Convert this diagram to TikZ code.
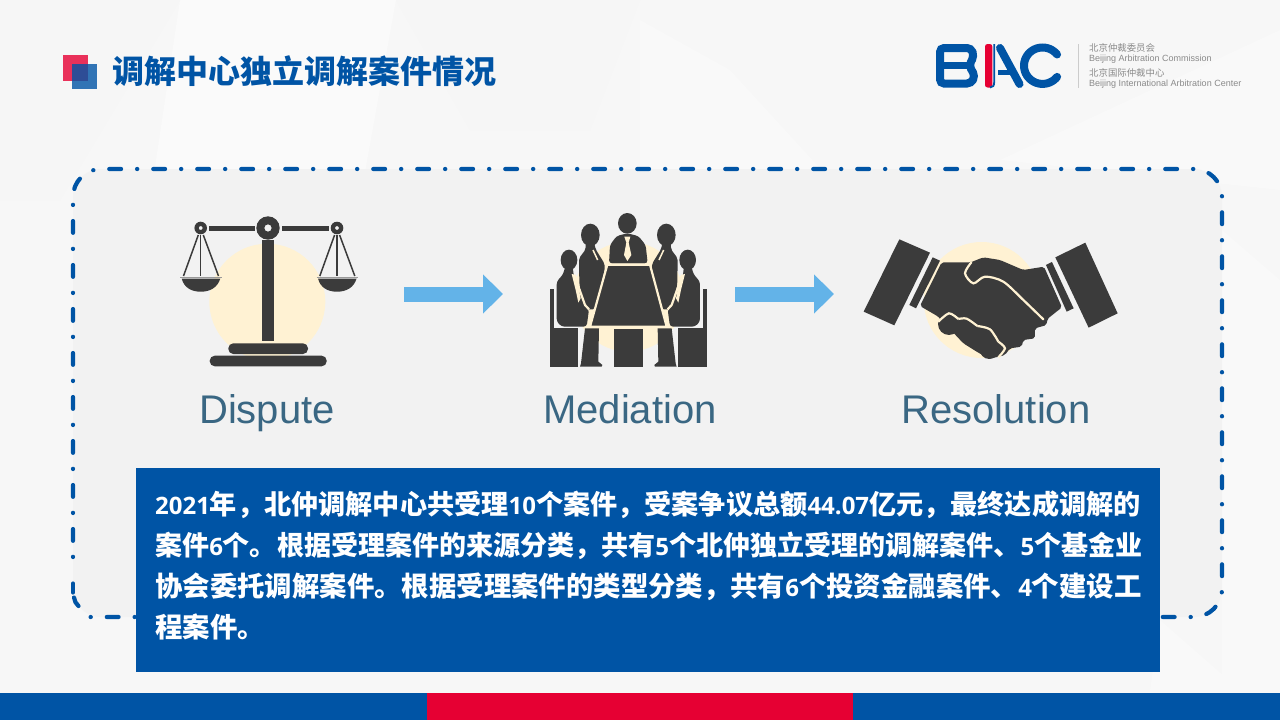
\documentclass[tikz,border=0pt]{standalone}
\usepackage{fontspec}
\setmainfont{Liberation Sans}
\newfontfamily\cjkfont{Noto Sans CJK SC}
\newfontfamily\digitfont{Open Sans}
\usetikzlibrary{arrows.meta}
\usetikzlibrary{positioning}
\definecolor{bacblue}{HTML}{0054A5}
\definecolor{bacred}{HTML}{E60033}
\definecolor{icondark}{HTML}{3B3B3B}
\definecolor{cream}{HTML}{FFF2D3}
\definecolor{labelblue}{HTML}{3A6783}
\definecolor{flowblue}{HTML}{63B3E8}
\definecolor{logogray}{HTML}{8A8A8A}
\newcommand{\dgt}[1]{{\digitfont\fontsize{24}{41}\selectfont #1}}
\tikzset{
  flowlabel/.style={text=labelblue,anchor=base,font=\fontsize{40}{48}\selectfont},
  flowarrow/.style={line width=15pt,flowblue,-{Triangle[length=20pt,width=38pt]}},
  logotext/.style={text=logogray,anchor=west,inner sep=0pt},
  iconline/.style={draw=icondark,line width=1.5pt},
  creamline/.style={draw=cream,line width=2.2pt},
  borderline/.style={bacblue,line width=4.2pt,line cap=round},
  bgpoly/.style={draw=none}
}
\begin{document}
\begin{tikzpicture}[x=1pt,y=-1pt]
\useasboundingbox (0,0) rectangle (1280,720);
\fill[white!97!black] (0,0) rectangle (1280,720);
\fill[bgpoly,white!98!black] (180,0) -- (396,0) -- (360,200) -- (150,200) -- cycle;
\fill[bgpoly,white!96.3!black] (396,0) -- (640,0) -- (590,130) -- (470,130) -- cycle;
\fill[bgpoly,white!97.8!black] (640,20) -- (730,70) -- (840,190) -- (640,190) -- cycle;
\fill[bgpoly,white!96.3!black] (0,0) -- (180,0) -- (60,200) -- (0,200) -- cycle;
\fill[bgpoly,white!97.8!black] (1000,160) -- (1280,30) -- (1280,190) -- cycle;
\fill[bgpoly,white!97.6!black] (1160,620) -- (1240,690) -- (1150,690) -- cycle;
\fill[bgpoly,white!97.6!black] (1222,230) -- (1280,280) -- (1280,690) -- (1222,690) -- cycle;
\fill[white!95!black,rounded corners=28pt] (73,169) rectangle (1222,617);
\draw[borderline,rounded corners=28pt,dash pattern=on 11.8pt off 16pt on 0.2pt off 16pt,dash phase=27.8pt] (73,557) -- (73,169) -- (1222,169) -- (1222,617) -- (90,617);
\draw[borderline] (73,583.5) -- (73,592.5);
\draw[borderline] (74,597.5) .. controls (74.5,601) and (76,604) .. (78.5,606);
\fill[bacred,opacity=0.8] (63,55) rectangle (88,81);
\fill[bacblue,opacity=0.8] (72,64) rectangle (97,89);
\node[anchor=west,inner sep=0pt,text=bacblue] (title) at (112,71) {\cjkfont\bfseries\fontsize{32}{38}\selectfont 调解中心独立调解案件情况};
\draw[bacblue,line width=8pt,rounded corners=4pt] (940,48) -- (971,48) -- (974,56) -- (969,65.5) -- (975,76) -- (971,83.5) -- (940,83.5) -- cycle;
\draw[bacblue,line width=7pt] (940,65.5) -- (969,65.5);
\fill[bacred,rounded corners=2.5pt] (985,44) rectangle (992.3,87.5);
\draw[bacblue,line width=1.8pt] (994.2,44) -- (994.2,82) .. controls (994.2,86) and (993,87) .. (990,87.5);
\draw[bacblue,line width=8pt,line cap=round] (1000,48) -- (1019.5,84);
\draw[bacblue,line width=5pt] (998,72.5) -- (1013,72.5);
\draw[bacblue,line width=8pt,line cap=round] plot[domain=-38:-322,samples=40,smooth] ({1042.5+18.5*cos(\x)},{65.7+18.2*sin(\x)});
\draw[white!80!black,line width=0.8pt] (1078,44) -- (1078,88);
\node[logotext] (cnamea) at (1089,48) {\cjkfont\fontsize{9.4}{11}\selectfont 北京仲裁委员会};
\node[logotext] (enamea) at (1089,59) {\fontsize{9}{10}\selectfont Beijing Arbitration Commission};
\node[logotext] (cnameb) at (1089,73) {\cjkfont\fontsize{9.4}{11}\selectfont 北京国际仲裁中心};
\node[logotext] (enameb) at (1089,84) {\fontsize{9}{10}\selectfont Beijing International Arbitration Center};
\fill[cream] (267.3,301.7) circle (58);
\fill[icondark] (208.7,225.5) rectangle (255,230.7);
\fill[icondark] (281.7,225.5) rectangle (329.3,230.7);
\fill[icondark,even odd rule] (268,228) circle (11.7) (268,228) circle (3.7);
\fill[icondark] (262.3,240) rectangle (274.3,341.3);
\fill[icondark,rounded corners=5pt] (228.3,343.3) rectangle (308,354);
\fill[icondark,rounded corners=5pt] (209.7,355.7) rectangle (326.7,366.3);
\foreach \dx in {0,136.3}{
  \fill[icondark,even odd rule] (200.7+\dx,228) circle (6.3) (200.7+\dx,228) circle (2);
  \draw[iconline] (198.3+\dx,235) -- (183.5+\dx,276);
  \draw[iconline] (200.7+\dx,235) -- (200.7+\dx,276);
  \draw[iconline] (203.3+\dx,235) -- (218.5+\dx,276);
  \draw[white!60!black,line width=1pt] (180.3+\dx,277.7) -- (221.7+\dx,277.7);
  \fill[icondark] (181.7+\dx,278.5) .. controls (184+\dx,288) and (192+\dx,291.7) .. (200.7+\dx,291.7) .. controls (209.5+\dx,291.7) and (217.5+\dx,288) .. (220.3+\dx,278.5) -- cycle;
}
\node[flowlabel] (dispute) at (267,423.3) {Dispute};
\coordinate (arrowastart) at (404,294);
\coordinate (arrowaend) at (503,294);
\draw[flowarrow] (arrowastart) -- (arrowaend);
\coordinate (arrowbstart) at (735,294);
\coordinate (arrowbend) at (834,294);
\draw[flowarrow] (arrowbstart) -- (arrowbend);
\fill[cream] (628.3,296.7) circle (55);
\begin{scope}[shift={(628.33,200)},x=0.3333pt,y=-0.3333pt]
\foreach \s in {1,-1}{
  \begin{scope}[xscale=\s]
  \fill[icondark] (-114,105) ellipse (28 and 34);
  \fill[icondark,rounded corners=2pt] (-128,130) -- (-102,130) -- (-98,148) -- (-72,190) -- (-70,205) -- (-100,328) -- (-135,328) -- (-147,250) -- (-148,175) -- (-128,148) -- cycle;
  \draw[cream,line width=1.5pt] (-106,150) -- (-92,180);
  \fill[icondark] (-178,180) ellipse (25 and 31);
  \fill[icondark,rounded corners=3pt] (-190,200) -- (-166,200) -- (-165,222) -- (-135,310) -- (-118,328) -- (-125,380) -- (-200,380) -- (-215,365) -- (-215,245) -- (-195,222) -- cycle;
  \fill[cream] (-170,222) -- (-157,225) -- (-143,295) -- (-150,308) -- (-158,270) -- cycle;
  \draw[creamline] (-162,225) -- (-130,315) -- (-118,328);
  \fill[icondark] (-235,385) rectangle (-150,500);
  \fill[icondark] (-235,267) rectangle (-223,383);
  \fill[icondark] (-130,385) -- (-88,385) -- (-90,485) -- (-78,495) -- (-80,500) -- (-145,500) -- (-142,490) -- cycle;
  \end{scope}
}
\fill[icondark] (-42,388) rectangle (45,500);
\fill[icondark] (-3,70) ellipse (28 and 31);
\fill[icondark,rounded corners=3pt] (-58,190) -- (-55,135) -- (-35,108) -- (-3,100) -- (30,108) -- (52,135) -- (58,190) -- cycle;
\fill[cream] (-12,110) -- (6,110) -- (1,128) -- (9,165) -- (-3,183) -- (-13,165) -- (-6,128) -- cycle;
\fill[icondark,draw=cream,line width=2.2pt] (-63,194) -- (65,194) -- (115,380) -- (-115,380) -- cycle;
\end{scope}
\node[flowlabel] (mediation) at (630,423.3) {Mediation};
\fill[cream] (981.7,300) circle (58);
\begin{scope}[shift={(850,220)},x=0.3333pt,y=-0.3333pt]
\fill[icondark] (148,58) -- (240,98) -- (133,316) -- (41,275) -- cycle;
\fill[icondark] (248,112) -- (270,122) -- (198,265) -- (178,255) -- cycle;
\fill[icondark] (706,68) -- (803,280) -- (716,323) -- (616,112) -- cycle;
\fill[icondark] (606,126) -- (588,135) -- (650,275) -- (671,265) -- cycle;
\fill[icondark,rounded corners=2pt] (275,127) -- (362,127) -- (400,112) -- (450,120) -- (520,150) -- (582,140) -- (636,262) -- (592,297) -- (590,315) -- (555,325) -- (555,355) -- (520,360) -- (515,380) -- (480,385) -- (465,405) -- (440,412) -- (415,415) -- (380,395) -- (340,370) -- (265,290) -- (210,258) -- cycle;
\fill[icondark] (297,312) circle (33);
\fill[icondark] (350,330) circle (33);
\fill[icondark] (395,359) circle (34);
\fill[icondark] (418,388) circle (29);
\draw[creamline,line cap=round] plot[smooth] coordinates {(364,127) (345,160) (370,190) (405,170) (460,185) (520,240) (580,298)};
\draw[creamline] plot[smooth] coordinates {(265,305) (297,280) (325,297)};
\draw[creamline] plot[smooth] coordinates {(325,297) (350,296) (382,318)};
\draw[creamline] plot[smooth] coordinates {(382,318) (420,328) (445,365)};
\draw[creamline] plot[smooth] coordinates {(445,365) (465,385) (445,412)};
\end{scope}
\node[flowlabel] (resolution) at (996,423.3) {Resolution};
\fill[bacblue] (136,468) rectangle (1160,672);
\node[anchor=north west,inner sep=0pt,text=white,align=left,font=\cjkfont\bfseries\fontsize{27}{41}\selectfont] (summary) at (155,491) {\fontsize{27.15}{41}\selectfont \dgt{2021}年，北仲调解中心共受理\dgt{10}个案件，受案争议总额\dgt{44.07}亿元，最终达成调解的\\
\fontsize{27.03}{41}\selectfont 案件\dgt{6}个。根据受理案件的来源分类，共有\dgt{5}个北仲独立受理的调解案件、\dgt{5}个基金业\\
\fontsize{27.4}{41}\selectfont 协会委托调解案件。根据受理案件的类型分类，共有\dgt{6}个投资金融案件、\dgt{4}个建设工\\
\fontsize{27.4}{41}\selectfont 程案件。};
\fill[bacblue] (0,693) rectangle (427,720);
\fill[bacred] (427,693) rectangle (853,720);
\fill[bacblue] (853,693) rectangle (1280,720);
\end{tikzpicture}
\end{document}
